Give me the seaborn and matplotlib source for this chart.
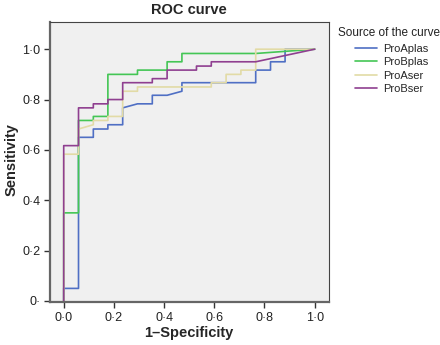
import matplotlib
matplotlib.use("Agg")
import matplotlib.pyplot as plt
import seaborn as sns
import pandas as pd
from matplotlib.lines import Line2D

# ---- data ----
curves = ["ProAplas", "ProBplas", "ProAser", "ProBser"]

aplas_fpr = [0, 0, 0.059, 0.059, 0.118, 0.118, 0.176, 0.176, 0.235, 0.235, 0.294, 0.353, 0.353, 0.412, 0.471, 0.471, 0.765, 0.765, 0.824, 0.824, 0.882, 0.882, 1.0]
aplas_tpr = [0, 0.05, 0.05, 0.65, 0.65, 0.683, 0.683, 0.70, 0.70, 0.767, 0.783, 0.783, 0.817, 0.817, 0.833, 0.867, 0.867, 0.917, 0.917, 0.95, 0.95, 1.0, 1.0]

bplas_fpr = [0, 0, 0.059, 0.059, 0.118, 0.118, 0.176, 0.176, 0.294, 0.294, 0.412, 0.412, 0.471, 0.471, 0.765, 1.0]
bplas_tpr = [0, 0.35, 0.35, 0.717, 0.717, 0.733, 0.733, 0.90, 0.90, 0.917, 0.917, 0.95, 0.95, 0.983, 0.983, 1.0]

aser_fpr = [0, 0, 0.059, 0.059, 0.118, 0.118, 0.176, 0.176, 0.235, 0.235, 0.294, 0.294, 0.588, 0.588, 0.647, 0.647, 0.706, 0.706, 0.765, 0.765, 1.0]
aser_tpr = [0, 0.583, 0.583, 0.683, 0.70, 0.717, 0.717, 0.733, 0.733, 0.833, 0.833, 0.85, 0.85, 0.867, 0.867, 0.90, 0.90, 0.917, 0.917, 1.0, 1.0]

bser_fpr = [0, 0, 0.059, 0.059, 0.118, 0.118, 0.176, 0.176, 0.235, 0.235, 0.353, 0.353, 0.412, 0.412, 0.529, 0.529, 0.588, 0.588, 0.765, 1.0]
bser_tpr = [0, 0.617, 0.617, 0.767, 0.767, 0.783, 0.783, 0.80, 0.80, 0.867, 0.867, 0.883, 0.883, 0.917, 0.917, 0.933, 0.933, 0.95, 0.95, 1.0]

tick_vals = [0.0, 0.2, 0.4, 0.6, 0.8, 1.0]
x_tick_labels = ["0·0", "0·2", "0·4", "0·6", "0·8", "1·0"]
y_tick_labels = ["0·", "0·2", "0·4", "0·6", "0·8", "1·0"]

colors = ["#4f6fc4", "#44c655", "#e2dba6", "#8f3f90"]

# ---- build long table ----
frames = []
for name, xs, ys in zip(curves,
                        [aplas_fpr, bplas_fpr, aser_fpr, bser_fpr],
                        [aplas_tpr, bplas_tpr, aser_tpr, bser_tpr]):
    frames.append(pd.DataFrame({"fpr": xs, "tpr": ys, "curve": name}))
df = pd.concat(frames, ignore_index=True)

sns.set_style("white")
plt.rcParams["font.family"] = ["Liberation Sans", "DejaVu Sans"]

fig = plt.figure(figsize=(4.4, 3.45), dpi=100)
ax = fig.add_axes([50 / 440, 1 - 302 / 345, 279 / 440, 280 / 345])
ax.set_facecolor("#f0f0f0")

sns.lineplot(data=df, x="fpr", y="tpr", hue="curve", hue_order=curves,
             palette=dict(zip(curves, colors)), sort=False, estimator=None,
             linewidth=1.2, ax=ax, legend=False)

ax.set_xlim(-0.0546, 1.057)
ax.set_ylim(-0.004, 1.108)
ax.set_xticks(tick_vals)
ax.set_xticklabels(x_tick_labels)
ax.set_yticks(tick_vals)
ax.set_yticklabels(y_tick_labels)
ax.tick_params(axis="both", direction="out", length=4, width=1.0,
               color="#333333", labelsize=9, labelcolor="#222222", pad=3,
               bottom=True, left=True)

for side in ["left", "bottom"]:
    ax.spines[side].set_color("#666666")
    ax.spines[side].set_linewidth(1.6)
for side in ["top", "right"]:
    ax.spines[side].set_color("#444444")
    ax.spines[side].set_linewidth(0.8)

ax.set_xlabel("")
ax.set_ylabel("")
fig.text(189 / 440, 1 - 333 / 345, "1–Specificity", fontsize=10.5,
         fontweight="bold", ha="center", va="center")
fig.text(12 / 440, 1 - 160 / 345, "Sensitivity", fontsize=10.5,
         fontweight="bold", ha="center", va="center", rotation=90)
fig.text(189 / 440, 1 - 10 / 345, "ROC curve", fontsize=10.5,
         fontweight="bold", ha="center", va="center")

# legend
handles = [Line2D([0], [0], color=c, lw=1.2) for c in colors]
fig.text(338 / 440, 1 - 33 / 345, "Source of the curve", fontsize=8.5,
         ha="left", va="center", color="#222222")
leg = fig.legend(handles, curves, loc="upper left",
                 bbox_to_anchor=(355 / 440, 1 - 44 / 345),
                 frameon=False, fontsize=8, handlelength=2.0,
                 handletextpad=0.5, labelspacing=0.3, borderpad=0,
                 borderaxespad=0)

fig.savefig("out.png", dpi=100)
